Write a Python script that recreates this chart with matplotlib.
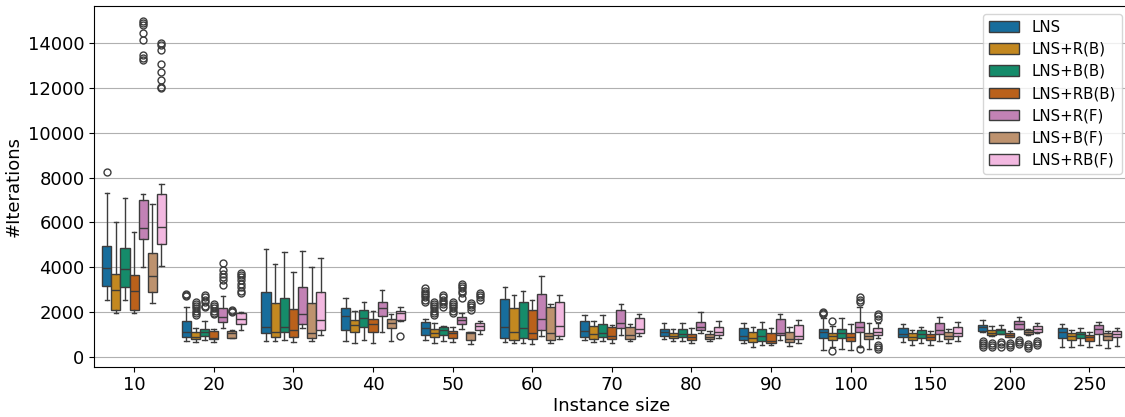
import matplotlib
matplotlib.use('Agg')
import matplotlib.pyplot as plt
from matplotlib.patches import Patch
import seaborn as sns

sizes = ['10', '20', '30', '40', '50', '60', '70', '80', '90', '100', '150', '200', '250']
methods = ['LNS', 'LNS+R(B)', 'LNS+B(B)', 'LNS+RB(B)', 'LNS+R(F)', 'LNS+B(F)', 'LNS+RB(F)']

# box statistics, one row per instance size, one column per method
whislo = [
    [2520, 1940, 2520, 1940, 4020, 2410, 4050],
    [700, 670, 745, 640, 1270, 820, 1190],
    [715, 690, 730, 655, 1270, 715, 970],
    [690, 625, 730, 600, 1090, 690, 1610],
    [730, 625, 700, 640, 1225, 580, 1015],
    [655, 625, 600, 565, 925, 600, 805],
    [730, 655, 700, 625, 970, 690, 925],
    [790, 690, 715, 610, 1045, 690, 835],
    [625, 445, 520, 535, 730, 480, 625],
    [300, 445, 330, 300, 445, 345, 820],
    [655, 520, 600, 520, 715, 600, 715],
    [1090, 930, 1000, 870, 1220, 970, 1045],
    [445, 445, 505, 420, 520, 400, 480],
]
q1 = [
    [3145, 2085, 3100, 2085, 5260, 2875, 5035],
    [895, 775, 925, 775, 1565, 850, 1445],
    [1045, 865, 1090, 865, 1445, 820, 1190],
    [1190, 1105, 1310, 1090, 1820, 1270, 1640],
    [955, 895, 955, 835, 1460, 730, 1190],
    [820, 745, 820, 790, 1190, 745, 940],
    [895, 775, 895, 775, 1270, 775, 1045],
    [940, 820, 865, 760, 1180, 775, 955],
    [730, 655, 690, 625, 955, 640, 775],
    [850, 745, 820, 715, 1115, 775, 970],
    [895, 760, 835, 730, 1015, 790, 910],
    [1150, 955, 1030, 895, 1250, 1030, 1115],
    [835, 745, 835, 700, 1015, 745, 865],
]
med = [
    [3950, 2965, 3900, 2935, 5765, 3605, 5810],
    [1090, 865, 1090, 820, 1760, 1045, 1685],
    [1310, 1115, 1310, 1180, 1895, 1045, 1640],
    [1820, 1415, 1715, 1445, 2190, 1520, 1965],
    [1270, 1045, 1190, 1045, 1640, 1070, 1385],
    [1310, 1105, 1295, 1045, 1670, 1045, 1385],
    [1160, 1015, 1070, 925, 1520, 955, 1240],
    [1090, 925, 1030, 895, 1340, 895, 1115],
    [925, 835, 925, 715, 1060, 805, 940],
    [1115, 925, 1070, 865, 1340, 940, 1115],
    [1030, 895, 1000, 895, 1190, 940, 1070],
    [1340, 1060, 1180, 970, 1445, 1115, 1250],
    [1105, 940, 1015, 895, 1225, 940, 1000],
]
q3 = [
    [4960, 3695, 4840, 3650, 6985, 4645, 7255],
    [1595, 1090, 1240, 1150, 2160, 1150, 1940],
    [2875, 2385, 2620, 2115, 3130, 2385, 2875],
    [2160, 1640, 2070, 1670, 2455, 1685, 2055],
    [1535, 1240, 1340, 1150, 1785, 1115, 1490],
    [2565, 2190, 2445, 2085, 2815, 2205, 2455],
    [1580, 1385, 1475, 1340, 2085, 1340, 1730],
    [1240, 1070, 1220, 1030, 1535, 1020, 1310],
    [1295, 1090, 1225, 1070, 1685, 1115, 1400],
    [1225, 1045, 1240, 1045, 1565, 1070, 1270],
    [1295, 1070, 1190, 1000, 1490, 1090, 1325],
    [1430, 1180, 1250, 1045, 1580, 1205, 1355],
    [1295, 1045, 1115, 955, 1415, 1045, 1160],
]
whishi = [
    [7300, 6000, 7100, 5585, 7250, 6835, 7700],
    [2200, 1270, 1610, 1240, 2700, 1200, 1985],
    [4825, 4155, 4690, 3800, 4720, 3990, 4395],
    [2635, 2055, 2455, 2040, 2965, 1895, 2235],
    [1670, 1490, 1385, 1340, 1965, 1115, 1610],
    [3115, 2740, 2950, 2520, 3620, 2340, 2770],
    [1875, 1595, 1875, 1415, 2355, 1475, 1920],
    [1520, 1250, 1520, 1265, 1985, 1160, 1580],
    [1490, 1310, 1550, 1265, 1895, 1310, 1625],
    [1715, 1385, 1745, 1460, 2235, 1490, 1490],
    [1460, 1205, 1340, 1160, 1785, 1250, 1565],
    [1640, 1370, 1415, 1160, 1760, 1250, 1520],
    [1475, 1190, 1295, 1090, 1565, 1160, 1295],
]
fliers = [
    [[8265], [], [], [], [14980, 14900, 14820, 14450, 14150, 13480, 13330, 13250], [],
     [14000, 13900, 13700, 13050, 12700, 12350, 12050, 12000]],
    [[2800, 2750, 2700], [2450, 2350, 2250, 2150, 2050, 1950, 1850], [2750, 2650, 2550, 2450, 2250, 2200],
     [2350, 2250, 2150, 2050, 1950, 1900], [4200, 3850, 3700, 3550, 3400, 3200], [2080, 2050, 2000],
     [3750, 3650, 3550, 3400, 3250, 3100, 2950, 2850]],
    [[], [], [], [], [], [], []],
    [[], [], [], [], [], [], [940]],
    [[3050, 2950, 2850, 2750, 2650, 2550, 2450], [2450, 2350, 2250, 2150, 2050, 1950, 1850],
     [2750, 2650, 2550, 2450, 2350, 2200], [2450, 2350, 2250, 2150, 2050, 1950],
     [3250, 3150, 3050, 2950, 2850, 2600], [2400, 2300, 2200, 2100], [2850, 2750, 2650, 2550]],
    [[], [], [], [], [], [], []],
    [[], [], [], [], [], [], []],
    [[], [], [], [], [], [], []],
    [[], [], [], [], [], [], []],
    [[2000, 1950, 1900], [1595, 270], [], [], [2650, 2550, 2450, 345], [], [1900, 1800, 1700, 500, 420, 350]],
    [[], [], [], [], [], [], []],
    [[700, 600, 500, 420], [600, 500, 420], [650, 550, 450], [600, 500, 420], [750, 650, 550],
     [580, 480, 400], [700, 600, 500]],
    [[], [], [], [], [], [], []],
]

colors = [sns.desaturate(c, 0.75) for c in sns.color_palette('colorblind', len(methods))]
linecolor = '#3c3c3c'
lw = 1.0

fig = plt.figure(figsize=(11.25, 4.17), dpi=100)
ax = fig.add_axes([94.3/1125, 50.3/417, 1035/1125, 360.7/417])

n = len(methods)
w = 0.8/n
for j, method in enumerate(methods):
    stats = []
    for i in range(len(sizes)):
        stats.append(dict(med=med[i][j], q1=q1[i][j], q3=q3[i][j],
                          whislo=whislo[i][j], whishi=whishi[i][j], fliers=fliers[i][j]))
    positions = [i - 0.4 + w*(j+0.5) for i in range(len(sizes))]
    ax.bxp(stats, positions=positions, widths=w, patch_artist=True, manage_ticks=False,
           boxprops=dict(facecolor=colors[j], edgecolor=linecolor, linewidth=lw),
           medianprops=dict(color=linecolor, linewidth=lw),
           whiskerprops=dict(color=linecolor, linewidth=lw),
           capprops=dict(color=linecolor, linewidth=lw),
           flierprops=dict(marker='o', markerfacecolor='none', markeredgecolor=linecolor,
                           markersize=5, markeredgewidth=lw))

ax.set_xlim(-0.5, len(sizes)-0.5)
ax.set_ylim(-450, 15660)
ax.set_xticks(range(len(sizes)))
ax.set_xticklabels(sizes)
ax.set_yticks(range(0, 16000, 2000))
ax.yaxis.grid(True, color='#b0b0b0', linewidth=0.8)
ax.set_axisbelow(True)
for item in (ax.get_xticklabels() + ax.get_yticklabels()):
    item.set_fontsize(13)
ax.set_xlabel('Instance size', size=13, labelpad=2)
ax.set_ylabel('#Iterations', size=13)

handles = [Patch(facecolor=colors[j], edgecolor=linecolor, linewidth=lw, label=m) for j, m in enumerate(methods)]
ax.legend(handles=handles, loc='upper right', fontsize=10.8, labelspacing=0.48)

fig.savefig('out.png', dpi=100)
plt.close()
